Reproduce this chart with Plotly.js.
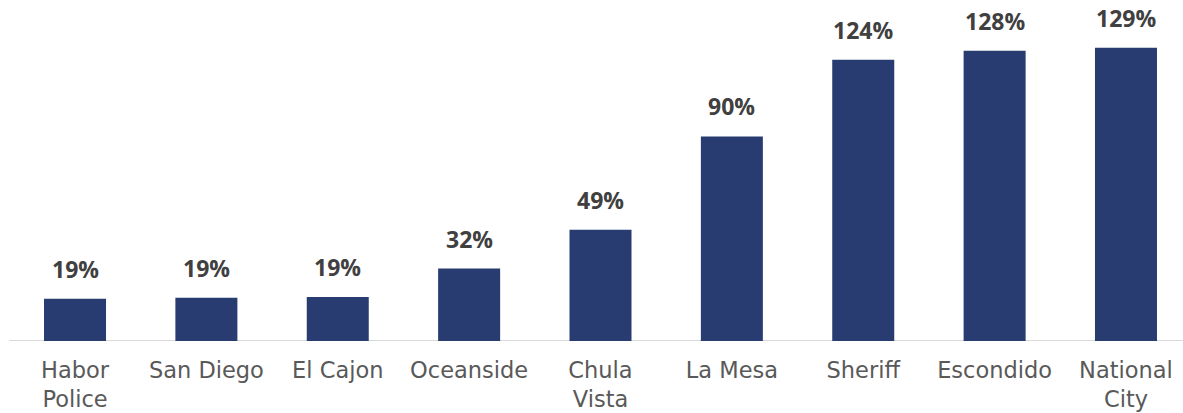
<!DOCTYPE html>
<html>
<head>
<meta charset="utf-8">
<script src="https://cdn.plot.ly/plotly-3.0.1.min.js"></script>
<style>html,body{margin:0;padding:0;background:#fff;}#chart{width:1183px;height:413px;}</style>
</head>
<body>
<div id="chart"></div>
<script>
const categories = ["Habor<br>Police", "San Diego", "El Cajon", "Oceanside", "Chula<br>Vista", "La Mesa", "Sheriff", "Escondido", "National<br>City"];
const values = [18.6, 19.0, 19.4, 31.9, 49.0, 90.1, 123.9, 127.8, 129.2];
const valueLabels = ["19%", "19%", "19%", "32%", "49%", "90%", "124%", "128%", "129%"];

const barColor = "#283c72";

const trace = {
  type: "bar",
  x: categories,
  y: values,
  marker: {color: barColor, line: {width: 0}},
  hoverinfo: "skip"
};

const annotations = categories.map((c, i) => ({
  x: c, y: values[i], xref: "x", yref: "y",
  text: valueLabels[i],
  showarrow: false,
  yanchor: "bottom",
  yshift: 12,
  font: {family: "Open Sans", size: 23, color: "#404040", weight: 700}
}));

const layout = {
  width: 1183, height: 413,
  margin: {l: 0, r: 0, t: 0, b: 72, pad: 0},
  paper_bgcolor: "#ffffff",
  plot_bgcolor: "#ffffff",
  bargap: 0.528,
  showlegend: false,
  xaxis: {
    type: "category",
    range: [-0.571, 8.434],
    showgrid: false, zeroline: false, showline: false,
    ticks: "", ticklen: 0,
    ticklabelstandoff: 13,
    tickfont: {family: "DejaVu Sans", size: 22.5, color: "#595959"},
    fixedrange: true
  },
  yaxis: {
    range: [0, 150.2],
    visible: false,
    showgrid: false, zeroline: false,
    fixedrange: true
  },
  shapes: [{
    type: "line", xref: "x", yref: "y",
    x0: -0.5, x1: 8.5, y0: 0, y1: 0,
    line: {color: "#d9d9d9", width: 2},
    layer: "below"
  }],
  annotations: annotations
};

Plotly.newPlot("chart", [trace], layout, {displayModeBar: false, staticPlot: true});
</script>
</body>
</html>
